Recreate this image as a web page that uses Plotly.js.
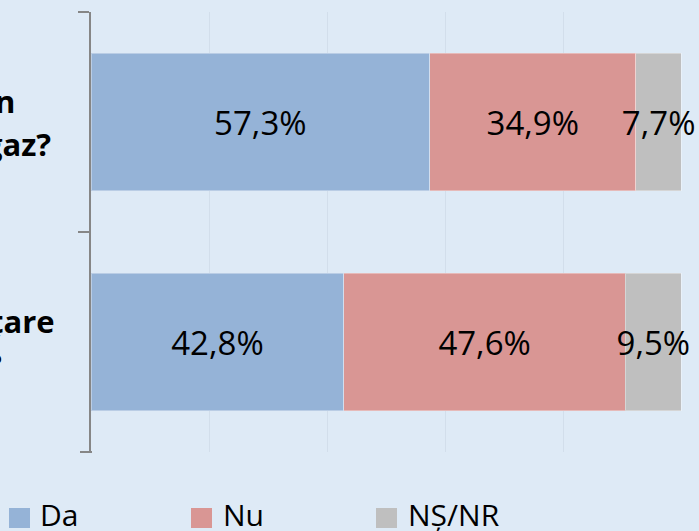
<!DOCTYPE html>
<html>
<head>
<meta charset="utf-8">
<script src="https://cdn.plot.ly/plotly-3.0.1.min.js"></script>
<style>html,body{margin:0;padding:0;background:#DEEAF6;}#chart{width:699px;height:531px;}</style>
</head>
<body>
<div id="chart"></div>
<script>
// ---- data ----
const catLine1 = ["n", "țare"];
const catLine2 = ["gaz?", "?"];
const categories = catLine1.map((a, i) => a + " " + catLine2[i]);
const seriesNames = ["Da", "Nu", "NȘ/NR"];
const daValues = [57.3, 42.8];
const nuValues = [34.9, 47.6];
const nsValues = [7.7, 9.5];
const xTicks = [0, 20, 40, 60, 80, 100];

// ---- styling ----
const colors = ["#95B3D7", "#D99694", "#BFBFBF"];
const bg = "#DEEAF6";
const axisGray = "#868686";
const FONT = "Open Sans, Noto Sans, sans-serif";
const fmt = v => v.toFixed(1).replace(".", ",") + "%";

const allValues = [daValues, nuValues, nsValues];
const traces = allValues.map((vals, i) => ({
  type: "bar",
  orientation: "h",
  name: seriesNames[i],
  y: categories,
  x: vals,
  text: vals.map(fmt),
  textposition: "inside",
  insidetextanchor: "middle",
  textangle: 0,
  constraintext: "none",
  cliponaxis: false,
  textfont: {family: FONT, size: 33, color: "#000000"},
  marker: {color: colors[i], line: {width: 1, color: "rgba(255,255,255,0.35)"}},
  hoverinfo: "skip",
  showlegend: false
}));

// plot area geometry helpers (paper coordinates)
const L = 91, R = 682, T = 12, B = 452;
const px = x => (x - L) / (R - L);
const py = y => (B - y) / (B - T);

const annotations = [];
// category labels (cropped at left edge in reference)
const line1Right = [17, 57];
const line2Right = [53, 4];
categories.forEach((c, i) => {
  annotations.push({xref: "paper", yref: "y", x: px(line1Right[i]), y: c, xanchor: "right", yanchor: "middle",
    yshift: 21, text: "<b>" + catLine1[i] + "</b>", showarrow: false,
    font: {family: FONT, size: 31, color: "#000000"}});
  annotations.push({xref: "paper", yref: "y", x: px(line2Right[i]), y: c, xanchor: "right", yanchor: "middle",
    yshift: -22, text: "<b>" + catLine2[i] + "</b>", showarrow: false,
    font: {family: FONT, size: 31, color: "#000000"}});
});

// custom legend (large squares as in reference)
const legSqX = [9, 191, 376];
const legTxtX = [38, 221, 406];
const shapes = [];
seriesNames.forEach((n, i) => {
  shapes.push({type: "rect", xref: "paper", yref: "paper",
    x0: px(legSqX[i]), x1: px(legSqX[i] + 21), y0: py(528), y1: py(508),
    fillcolor: colors[i], line: {width: 0}});
  annotations.push({xref: "paper", yref: "paper", x: px(legTxtX[i]), y: py(514),
    xanchor: "left", yanchor: "middle", text: n, showarrow: false,
    font: {family: FONT, size: 30, color: "#000000"}});
});
// bottom boundary tick of the category axis
shapes.push({type: "line", xref: "paper", yref: "paper", x0: px(80), x1: px(92), y0: 0, y1: 0,
  line: {color: axisGray, width: 2}});

const layout = {
  width: 699, height: 531,
  margin: {l: L, r: 699 - R, t: T, b: 531 - B, pad: 0},
  paper_bgcolor: bg, plot_bgcolor: bg,
  barmode: "stack",
  bargap: 0.375,
  showlegend: false,
  xaxis: {range: [0, 100], tickvals: xTicks, showticklabels: false, showgrid: true,
    gridcolor: "#D2DEEB", gridwidth: 1, zeroline: false, showline: false, ticks: "", fixedrange: true},
  yaxis: {type: "category", categoryorder: "array", categoryarray: categories,
    range: [1.5, -0.5], showticklabels: false, showgrid: false, zeroline: false,
    showline: true, linecolor: axisGray, linewidth: 2,
    ticks: "outside", tickson: "boundaries", ticklen: 11, tickwidth: 2, tickcolor: axisGray, fixedrange: true},
  annotations: annotations,
  shapes: shapes,
  font: {family: FONT}
};

Plotly.newPlot("chart", traces, layout, {displayModeBar: false, staticPlot: true});
</script>
</body>
</html>
